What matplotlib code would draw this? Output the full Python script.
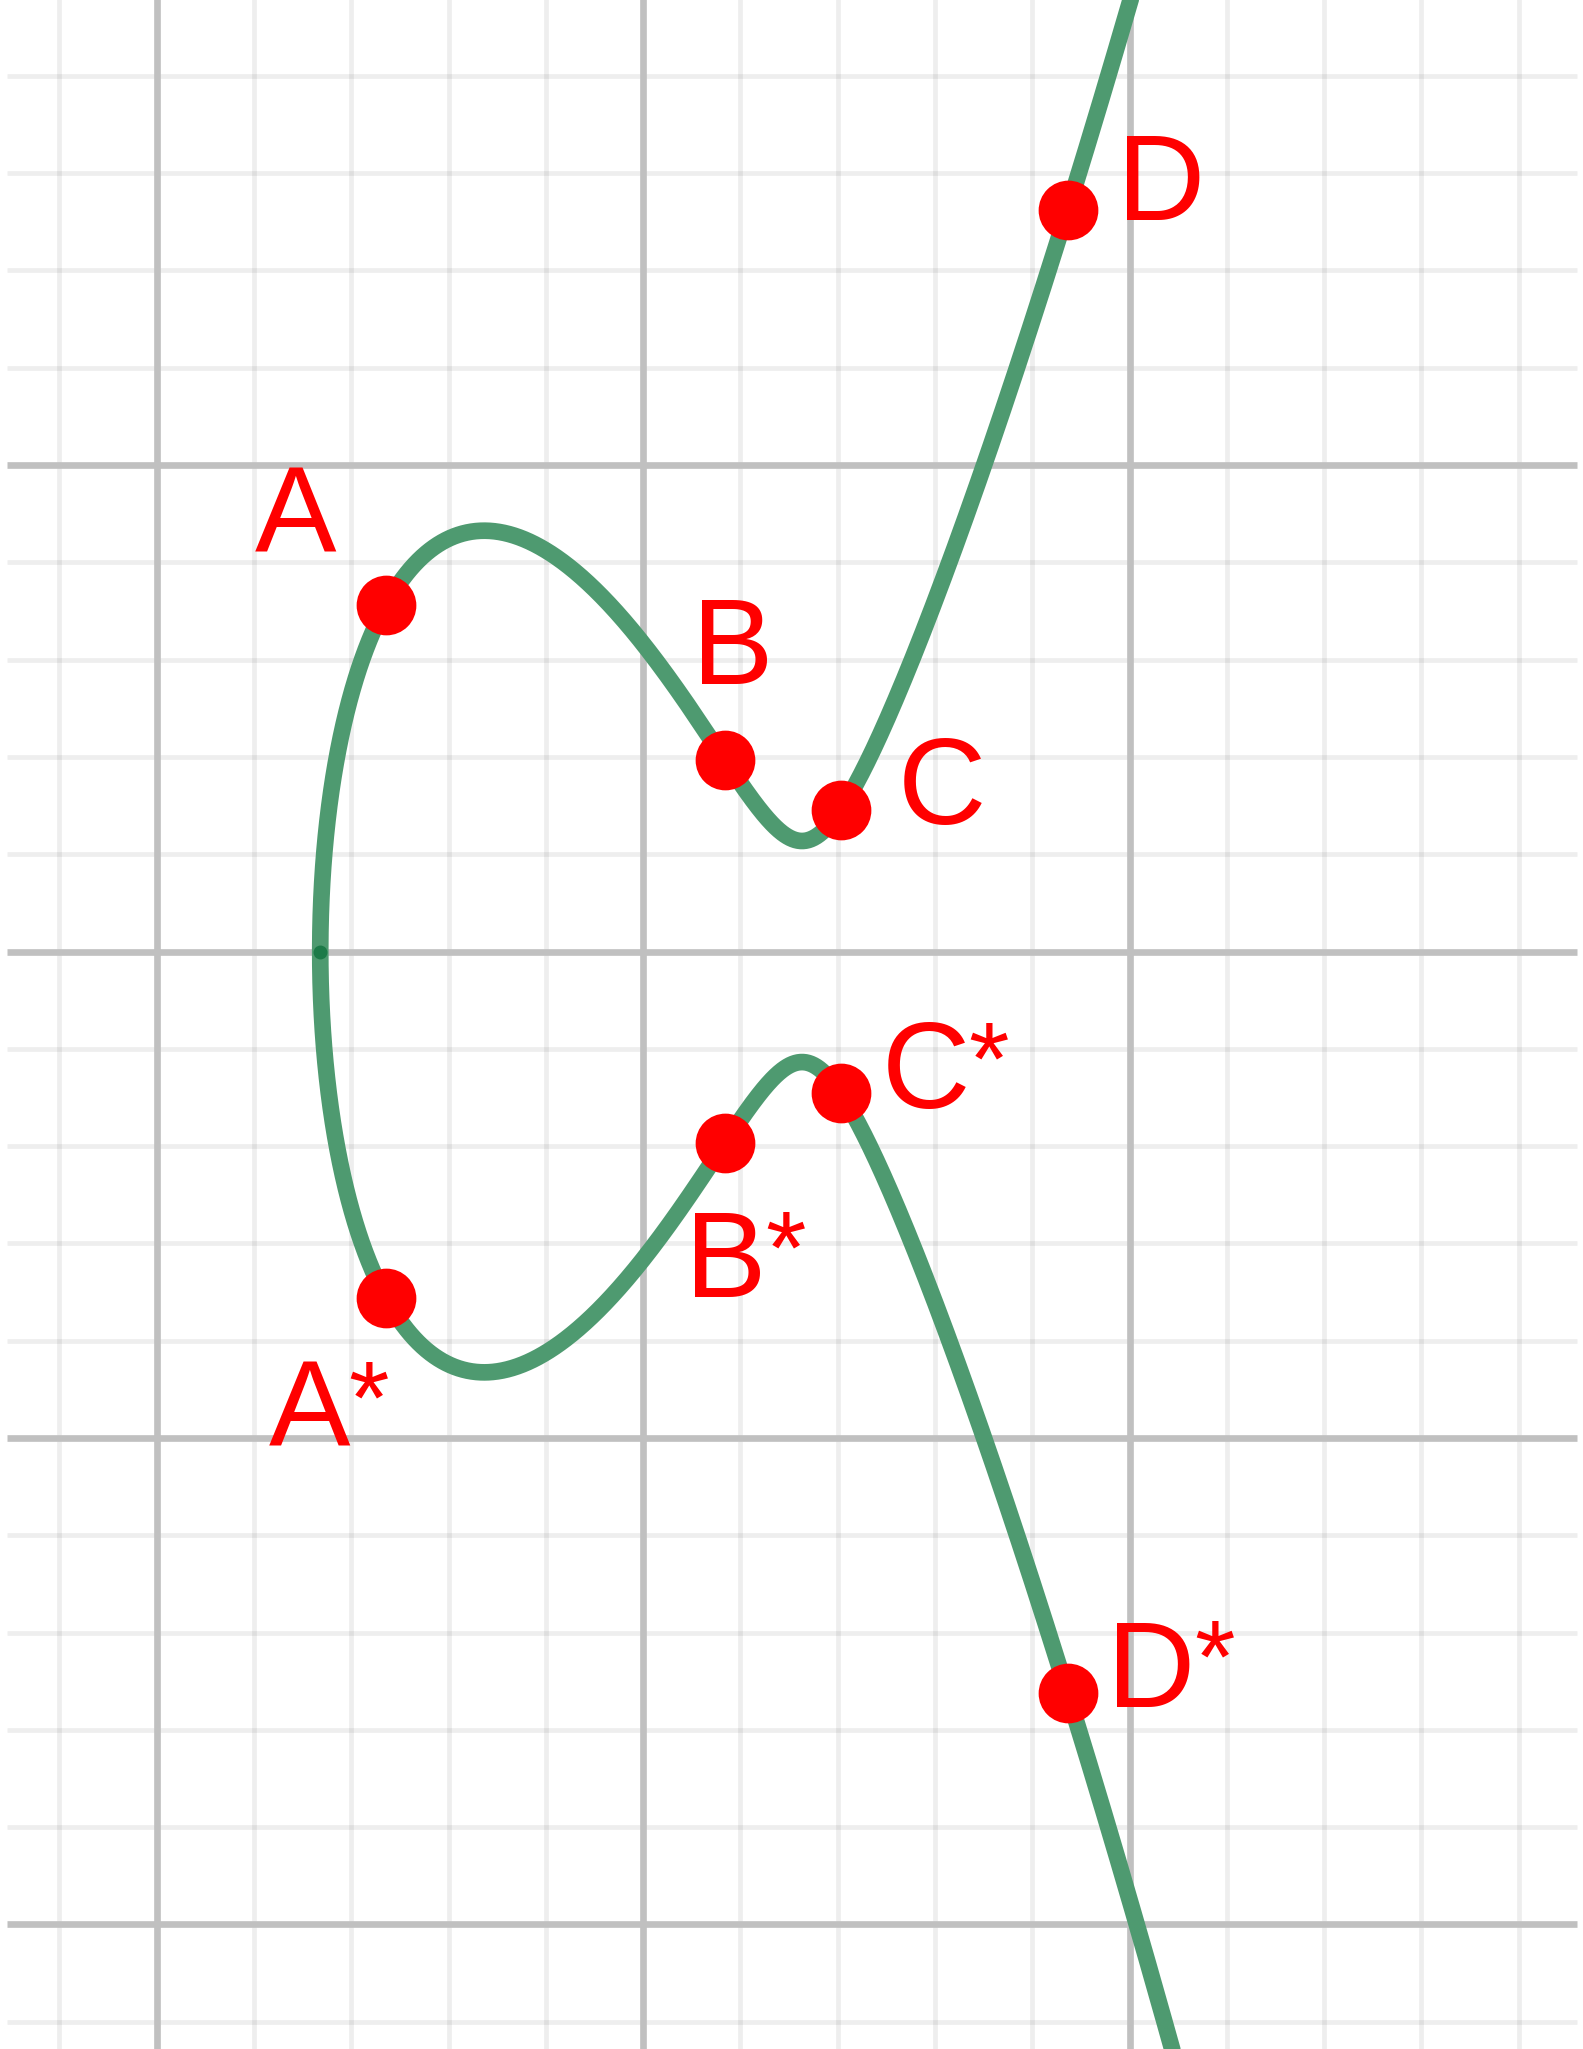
import matplotlib
matplotlib.use('Agg')
import matplotlib.pyplot as plt
import numpy as np

plt.rcParams['font.family'] = ['Liberation Sans', 'DejaVu Sans']

# curve y^2 = x^3 + a*x + b
curve_a = -8.0
curve_b = 10.0
curve_xmax = 6.0

# points on the curve (upper ones), their mirrors get a star
point_names = ['A', 'B', 'C', 'D']
point_x = [-2.64, 0.84, 2.03, 4.37]
point_y = [3.56, 1.97, 1.45, 7.62]

# label anchors (left, baseline)
label_x = [-3.99, 0.50, 2.62, 4.87]
label_y = [4.10, 2.75, 1.31, 7.52]
star_label_x = [-3.85, 0.43, 2.45, 4.77]
star_label_y = [-5.09, -3.55, -1.61, -7.76]

xlim = (-6.61, 9.66)
ylim = (-11.28, 9.78)
grid_x = list(range(-6, 10))
grid_y = list(range(-11, 10))
hline_span = (-6.54, 9.60)

fig = plt.figure(figsize=(15.83, 20.49), dpi=100)
ax = fig.add_axes([0, 0, 1, 1])
ax.set_xlim(*xlim)
ax.set_ylim(*ylim)
ax.axis('off')

# grid
for gx in grid_x:
    if gx % 5 == 0:
        ax.axvline(gx, color='#c0c0c0', lw=4.8, zorder=2)
    else:
        ax.axvline(gx, color='black', alpha=0.065, lw=3.4, zorder=1)
for gy in grid_y:
    if gy % 5 == 0:
        ax.hlines(gy, *hline_span, color='#c0c0c0', lw=4.8, zorder=2)
    else:
        ax.hlines(gy, *hline_span, color='black', alpha=0.065, lw=3.4, zorder=1)

# curve: one continuous line from the upper branch through the root to the lower
roots = np.roots([1, 0, curve_a, curve_b])
root = min(r.real for r in roots if abs(r.imag) < 1e-9)
s = np.linspace(0, 1, 1500)
xs = root + (curve_xmax - root) * s ** 2
ys = np.sqrt(np.clip(xs ** 3 + curve_a * xs + curve_b, 0, None))
cx = np.concatenate([xs[::-1], xs[1:]])
cy = np.concatenate([ys[::-1], -ys[1:]])
ax.plot(cx, cy, color='#4e9a70', lw=12, solid_capstyle='round', zorder=3)
ax.plot([root], [0], 'o', color='#1c7a48', ms=10, mec='none', zorder=4)

# points and labels
ax.plot(point_x, point_y, 'o', color='#ff0000', ms=43, mec='none', zorder=5)
ax.plot(point_x, [-v for v in point_y], 'o', color='#ff0000', ms=43, mec='none', zorder=5)
for name, lx, ly in zip(point_names, label_x, label_y):
    ax.text(lx, ly, name, color='#ff0000', fontsize=88, ha='left', va='baseline', zorder=6)

fig.canvas.draw()
for name, lx, ly in zip(point_names, star_label_x, star_label_y):
    letter = ax.text(lx, ly, name, color='#ff0000', fontsize=88, ha='left', va='baseline', zorder=6)
    # smaller, raised asterisk just after the letter
    ax.annotate('*', xy=(1.0, ly + 0.14), xycoords=(letter, 'data'),
                xytext=(-1, 0), textcoords='offset points',
                color='#ff0000', fontsize=75, ha='left', va='baseline', zorder=6)

fig.savefig('out.png', dpi=100, facecolor='white')
plt.close(fig)
